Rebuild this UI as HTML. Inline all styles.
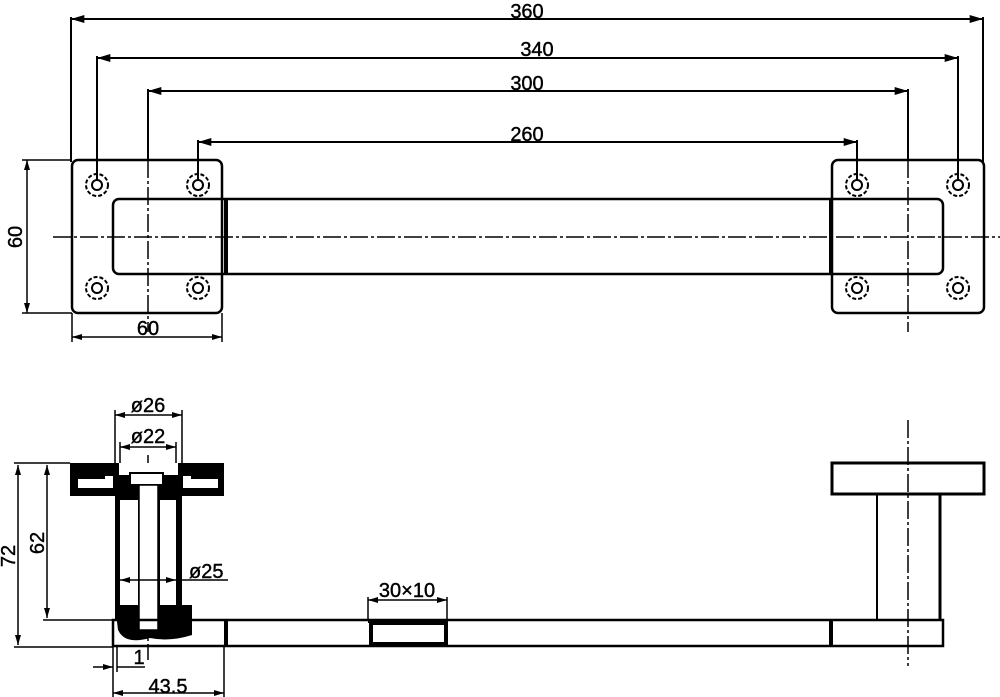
<!DOCTYPE html>
<html><head><style>body{margin:0;background:#fff}svg{display:block}text{font-family:"Liberation Sans",sans-serif;font-size:20px;fill:#000;stroke:#000;stroke-width:0.4}</style></head>
<body>
<svg width="1000" height="697" viewBox="0 0 1000 697" xmlns="http://www.w3.org/2000/svg">
<defs>
<marker id="a" viewBox="0 0 10 6" refX="10" refY="3" markerWidth="8" markerHeight="4" orient="auto-start-reverse"><path d="M0 0L10 3L0 6z" fill="#000"/></marker>
</defs>
<g stroke="#000" fill="none">
<g stroke-width="2">
<line x1="71" y1="19" x2="983" y2="19" marker-start="url(#a)" marker-end="url(#a)"/>
<line x1="71" y1="17" x2="71" y2="162"/><line x1="983" y1="17" x2="983" y2="162"/>
<line x1="97" y1="58" x2="958" y2="58" marker-start="url(#a)" marker-end="url(#a)"/>
<line x1="97" y1="56" x2="97" y2="180"/><line x1="958" y1="56" x2="958" y2="180"/>
<line x1="148" y1="91" x2="908" y2="91" marker-start="url(#a)" marker-end="url(#a)"/>
<line x1="148" y1="89" x2="148" y2="160"/><line x1="908" y1="89" x2="908" y2="160"/>
<line x1="198" y1="142" x2="857" y2="142" marker-start="url(#a)" marker-end="url(#a)"/>
<line x1="198" y1="140" x2="198" y2="180"/><line x1="857" y1="140" x2="857" y2="180"/>
</g>
<rect x="72" y="160" width="150" height="153" rx="6" stroke-width="2.5"/>
<rect x="832" y="160" width="152" height="153" rx="6" stroke-width="2.5"/>
<path d="M227 199H119a6 6 0 0 0-6 6v63a6 6 0 0 0 6 6H227" stroke-width="2.5"/>
<path d="M831 199H937a6 6 0 0 1 6 6v63a6 6 0 0 1-6 6H831" stroke-width="2.5"/>
<line x1="227" y1="199" x2="831" y2="199" stroke-width="2.5"/>
<line x1="227" y1="274" x2="831" y2="274" stroke-width="2.5"/>
<line x1="226" y1="198" x2="226" y2="275" stroke-width="4"/>
<line x1="831" y1="198" x2="831" y2="275" stroke-width="4"/>
<g stroke-width="2">
<circle cx="97" cy="185" r="11" stroke-dasharray="4 2"/><circle cx="97" cy="185" r="5"/>
<circle cx="198" cy="185" r="11" stroke-dasharray="4 2"/><circle cx="198" cy="185" r="5"/>
<circle cx="97" cy="288" r="11" stroke-dasharray="4 2"/><circle cx="97" cy="288" r="5"/>
<circle cx="198" cy="288" r="11" stroke-dasharray="4 2"/><circle cx="198" cy="288" r="5"/>
<circle cx="857" cy="185" r="11" stroke-dasharray="4 2"/><circle cx="857" cy="185" r="5"/>
<circle cx="958" cy="185" r="11" stroke-dasharray="4 2"/><circle cx="958" cy="185" r="5"/>
<circle cx="857" cy="288" r="11" stroke-dasharray="4 2"/><circle cx="857" cy="288" r="5"/>
<circle cx="958" cy="288" r="11" stroke-dasharray="4 2"/><circle cx="958" cy="288" r="5"/>
</g>
<g stroke-width="1.5" stroke-dasharray="18 3 3 3">
<line x1="53" y1="237" x2="1000" y2="237"/>
<line x1="148" y1="160" x2="148" y2="332"/>
<line x1="908" y1="160" x2="908" y2="332"/>
<line x1="908" y1="420" x2="908" y2="666"/>
<line x1="148" y1="455" x2="148" y2="660"/>
</g>
<g stroke-width="1.5">
<line x1="22" y1="160" x2="72" y2="160"/><line x1="22" y1="313" x2="72" y2="313"/>
<line x1="27" y1="160" x2="27" y2="313" marker-start="url(#a)" marker-end="url(#a)"/>
<line x1="72" y1="313" x2="72" y2="342"/><line x1="222" y1="313" x2="222" y2="342"/>
<line x1="72" y1="337" x2="222" y2="337" marker-start="url(#a)" marker-end="url(#a)"/>
</g>
<rect x="70" y="463" width="154" height="33" fill="#000" stroke="none"/>
<rect x="119" y="463" width="59" height="12" fill="#fff" stroke="none"/>
<path d="M78 479H105V476H113V488H78z" fill="#fff" stroke="none"/>
<path d="M218 479H191V476H183V488H218z" fill="#fff" stroke="none"/>
<rect x="130" y="473" width="33" height="12" fill="#fff" stroke="#000" stroke-width="2"/>
<rect x="115" y="496" width="67" height="125" fill="#000" stroke="none"/>
<path d="M115 605H192V635Q170 642 150 638Q125 645 118 630z" fill="#000" stroke="none"/>
<rect x="120" y="500" width="18" height="105" fill="#fff" stroke="none"/>
<rect x="160" y="500" width="16" height="105" fill="#fff" stroke="none"/>
<rect x="139" y="485" width="19" height="145" fill="#fff" stroke="#000" stroke-width="1.5"/>
<g stroke-width="1.5">
<line x1="90" y1="470" x2="104" y2="470"/><line x1="97" y1="465" x2="97" y2="476"/><line x1="88" y1="475" x2="106" y2="475"/>
<line x1="193" y1="470" x2="207" y2="470"/><line x1="200" y1="465" x2="200" y2="476"/><line x1="191" y1="475" x2="209" y2="475"/>
</g>
<rect x="113" y="620" width="830" height="26" stroke-width="2.5"/>
<line x1="226" y1="620" x2="226" y2="646" stroke-width="4"/>
<line x1="831" y1="620" x2="831" y2="646" stroke-width="4"/>
<line x1="368" y1="621" x2="448" y2="621" stroke-width="4"/>
<rect x="371" y="623" width="75" height="21" stroke-width="4"/>
<rect x="832" y="463" width="152" height="31" stroke-width="3"/>
<line x1="877" y1="494" x2="877" y2="620" stroke-width="2"/>
<line x1="940" y1="494" x2="940" y2="620" stroke-width="3"/>
<g stroke-width="1.5">
<line x1="115" y1="410" x2="115" y2="463"/><line x1="182" y1="410" x2="182" y2="463"/>
<line x1="115" y1="415" x2="182" y2="415" marker-start="url(#a)" marker-end="url(#a)"/>
<line x1="120" y1="442" x2="120" y2="463"/><line x1="176" y1="442" x2="176" y2="463"/>
<line x1="120" y1="447" x2="176" y2="447" marker-start="url(#a)" marker-end="url(#a)"/>
<line x1="120" y1="580" x2="176" y2="580" marker-start="url(#a)" marker-end="url(#a)"/>
<line x1="176" y1="580" x2="228" y2="580"/>
<line x1="14" y1="463" x2="70" y2="463"/>
<line x1="14" y1="647" x2="113" y2="647"/>
<line x1="43" y1="620" x2="115" y2="620"/>
<line x1="18" y1="465" x2="18" y2="645" marker-start="url(#a)" marker-end="url(#a)"/>
<line x1="47" y1="465" x2="47" y2="618" marker-start="url(#a)" marker-end="url(#a)"/>
<line x1="368" y1="597" x2="368" y2="620"/><line x1="447" y1="597" x2="447" y2="620"/>
<line x1="368" y1="600" x2="447" y2="600" marker-start="url(#a)" marker-end="url(#a)"/>
<line x1="113" y1="646" x2="113" y2="697"/><line x1="224" y1="646" x2="224" y2="697"/>
<line x1="113" y1="693" x2="224" y2="693" marker-start="url(#a)" marker-end="url(#a)"/>
<line x1="117" y1="646" x2="117" y2="672"/>
<line x1="93" y1="667" x2="113" y2="667" marker-end="url(#a)"/>
<line x1="117" y1="667" x2="145" y2="667"/>
</g>
</g>
<text x="527" y="18" text-anchor="middle">360</text>
<text x="537" y="56" text-anchor="middle">340</text>
<text x="527" y="90" text-anchor="middle">300</text>
<text x="527" y="141" text-anchor="middle">260</text>
<text x="148" y="335" text-anchor="middle">60</text>
<text transform="translate(22,237) rotate(-90)" text-anchor="middle">60</text>
<text x="148" y="412" text-anchor="middle">ø26</text>
<text x="148" y="443" text-anchor="middle">ø22</text>
<text x="189" y="578">ø25</text>
<text x="407" y="597" text-anchor="middle">30×10</text>
<text x="168" y="693" text-anchor="middle">43.5</text>
<text x="139" y="664" text-anchor="middle">1</text>
<text transform="translate(15,556) rotate(-90)" text-anchor="middle">72</text>
<text transform="translate(44,543) rotate(-90)" text-anchor="middle">62</text>
</svg>
</body></html>
